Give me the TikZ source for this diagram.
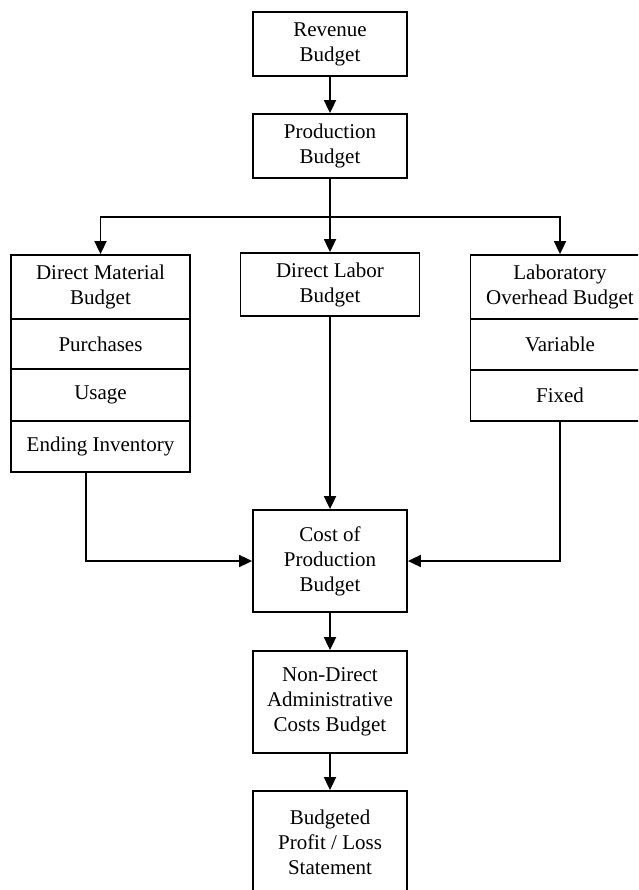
\documentclass[tikz,border=0pt]{standalone}
\usepackage{fontspec}
\setmainfont{Liberation Serif}
\usetikzlibrary{arrows.meta}
\begin{document}
\begin{tikzpicture}[x = 1pt, y = -1pt, >={Triangle[length = 13pt, width = 12pt]},
  line width = 1.8pt,
  box/.style = {draw, align = center, inner sep = 0pt, font = \fontsize{21}{25}\selectfont},
  midbox/.style = {box, minimum width = 154pt},
  sidebox/.style = {box, minimum width = 179pt}]
\path[use as bounding box, clip] (0,0) rectangle (638,890);
\node (rev) [midbox, minimum height = 64pt] at (330,44) {Revenue\\Budget};
\node (prod) [midbox, minimum height = 64pt] at (330,146) {Production\\Budget};
\coordinate (split) at (330,217);
% left column
\node (dmb) [sidebox, minimum height = 64pt] at (100.5,287) {Direct Material\\Budget};
\node (purch) [sidebox, minimum height = 50pt] at (100.5,344) {Purchases};
\node (usage) [sidebox, minimum height = 52pt] at (100.5,395) {Usage};
\node (endinv) [sidebox, minimum height = 51pt] at (100.5,446.5) {Ending Inventory};
% middle column
\node (dlb) [sidebox, minimum height = 63pt] at (330,284.5) {Direct Labor\\Budget};
% right column
\node (lob) [sidebox, minimum height = 64pt] at (560,287) {Laboratory\\Overhead Budget};
\node (var) [sidebox, minimum height = 51pt] at (560,344.5) {Variable};
\node (fixed) [sidebox, minimum height = 51pt] at (560,395.5) {Fixed};
\node (cpb) [midbox, minimum height = 102pt] at (330,561) {Cost of\\Production\\Budget};
\node (nda) [midbox, minimum height = 102pt] at (330,702) {Non-Direct\\Administrative\\Costs Budget};
\node (bpl) [midbox, minimum height = 102pt] at (330,842) {Budgeted\\Profit / Loss\\Statement};
\draw [->] (rev) -- (prod);
\draw (prod) -- (split);
\draw [->] (split) -| (dmb.north);
\draw [->] (split) -- (dlb);
\draw [->] (split) -| (lob.north);
\draw [->] ([xshift = 76pt]endinv.south west) |- (cpb);
\draw [->] (dlb) -- (cpb);
\draw [->] (fixed) |- (cpb);
\draw [->] (cpb) -- (nda);
\draw [->] (nda) -- (bpl);
\end{tikzpicture}
\end{document}
